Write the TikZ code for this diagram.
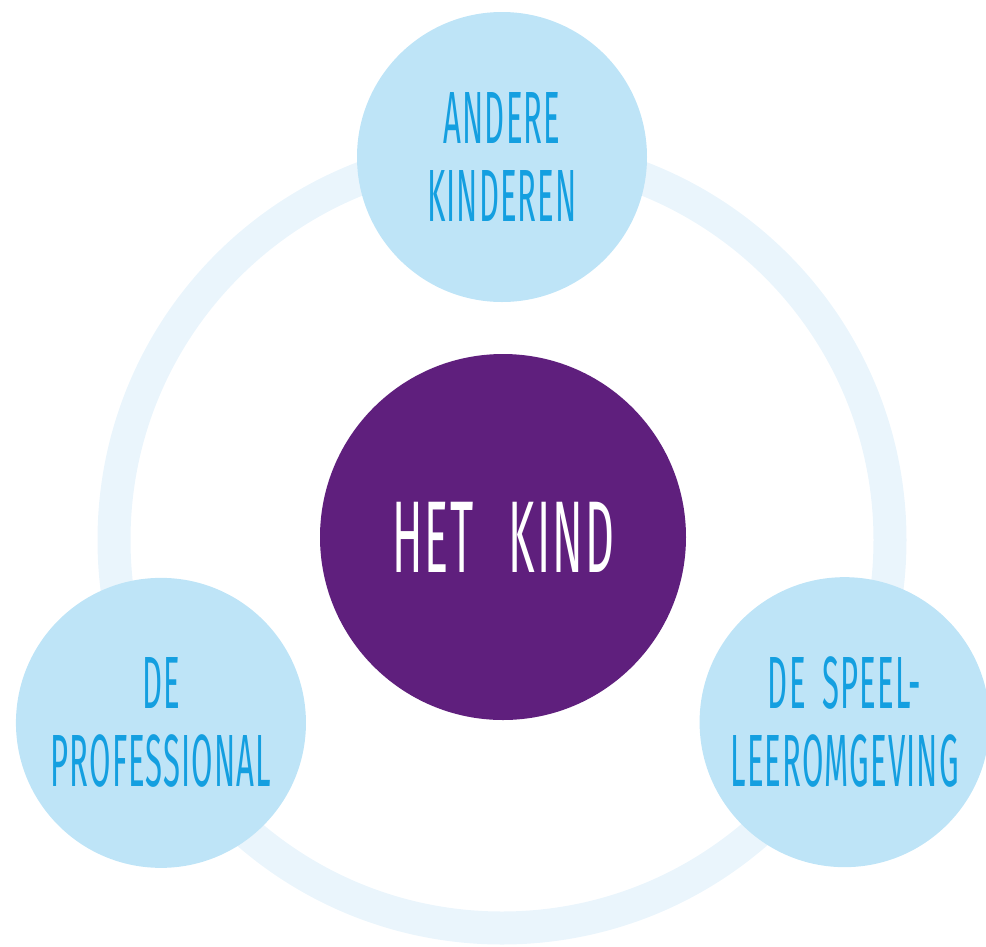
\documentclass[tikz,border=0pt]{standalone}
\usepackage{fontspec}
\usepackage{tikz}
\usetikzlibrary{calc,positioning}
\newfontfamily\handfont[FakeStretch=0.42, LetterSpace=1.5, WordSpace=1.8]{Fira Sans}
\newfontfamily\kindfont[FakeStretch=0.44, LetterSpace=2, WordSpace=2.5]{Fira Sans}
\definecolor{ringblue}{HTML}{EAF5FC}
\definecolor{bubbleblue}{HTML}{BEE4F7}
\definecolor{textblue}{HTML}{149FE0}
\definecolor{kindpurple}{HTML}{5F1F7D}
\tikzset{
  bubble/.style = {circle, fill=bubbleblue, minimum size=290pt, inner sep=0pt,
    text=textblue, align=center,
    font=\handfont\fontsize{74}{78}\selectfont},
  kindbubble/.style = {circle, fill=kindpurple, minimum size=366pt, inner sep=0pt,
    text=white, font=\kindfont\fontsize{102}{106}\selectfont},
}

\begin{document}
\begin{tikzpicture}[x=1pt, y=1pt]
    \useasboundingbox (0,0) rectangle (986,-946);
    % de ring achter alle cirkels
    \coordinate (ring) at (502,-540);
    \draw[ringblue, line width=33pt] (ring) circle[radius=388];

    % het midden
    \node[kindbubble] (kind) at (503,-537) {HET KIND};

    % de drie cirkels op de ring
    \node[bubble] (kinderen) at ($(ring)+(90:383)$) {ANDERE\\KINDEREN};
    \node[bubble] (professional) at ($(ring)+(208.2:387)$) {DE\\PROFESSIONAL};
    \node[bubble] (omgeving) at ($(ring)+(-28:388)$) {DE SPEEL-\\LEEROMGEVING};
\end{tikzpicture}
\end{document}
